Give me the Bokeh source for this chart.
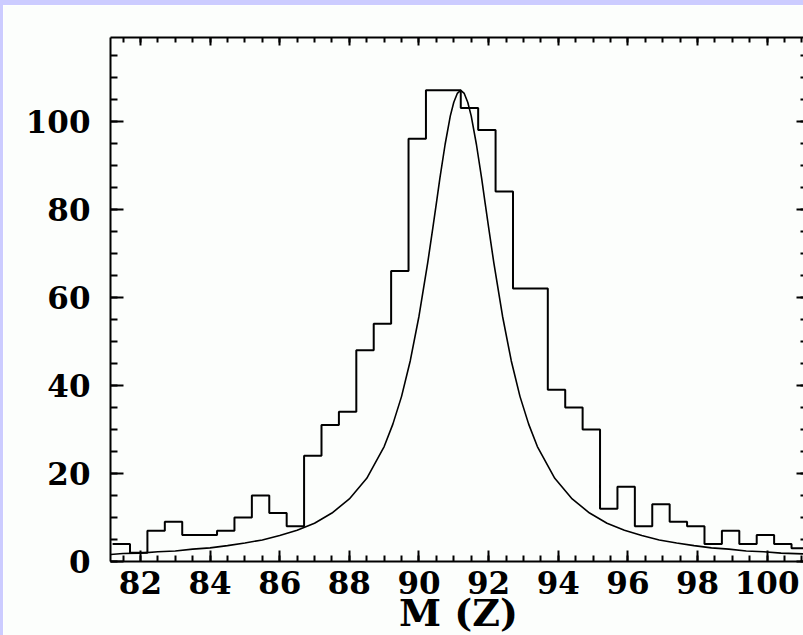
from bokeh.plotting import figure
from bokeh.models import Range1d, LinearAxis, SingleIntervalTicker, CustomJSTickFormatter
from bokeh.embed import file_html
from bokeh.resources import INLINE

# ---- data ----
bin_edges = [81.2, 81.7, 82.2, 82.7, 83.2, 83.7, 84.2, 84.7, 85.2, 85.7,
             86.2, 86.7, 87.2, 87.7, 88.2, 88.7, 89.2, 89.7, 90.2, 90.7,
             91.2, 91.7, 92.2, 92.7, 93.2, 93.7, 94.2, 94.7, 95.2, 95.7,
             96.2, 96.7, 97.2, 97.7, 98.2, 98.7, 99.2, 99.7, 100.2, 100.7, 101.2]
counts = [4, 2, 7, 9, 6, 6, 7, 10, 15, 11,
          8, 24, 31, 34, 48, 54, 66, 96, 107, 107,
          103, 98, 84, 62, 62, 39, 35, 30, 12, 17,
          8, 13, 9, 8, 4, 7, 4, 6, 4, 3]

curve_m = [81.14, 81.5, 82.0, 82.5, 83.0, 83.5, 84.0, 84.5, 85.0, 85.5,
           86.0, 86.5, 87.0, 87.5, 88.0, 88.5, 89.0, 89.25, 89.5, 89.75,
           90.0, 90.25, 90.4, 90.5, 90.6, 90.75, 90.9, 91.0, 91.1, 91.2,
           91.3, 91.4, 91.5, 91.65, 91.8, 91.9, 92.0, 92.15, 92.4, 92.65,
           92.9, 93.15, 93.4, 93.9, 94.4, 94.9, 95.4, 95.9, 96.4, 96.9,
           97.4, 97.9, 98.4, 98.9, 99.4, 99.9, 100.4, 101.13]
curve_n = [1.6, 1.8, 1.9, 2.2, 2.4, 2.8, 3.1, 3.6, 4.2, 4.9,
           5.9, 7.1, 8.7, 11.0, 14.2, 18.9, 26.1, 31.2, 37.5, 45.6,
           55.7, 67.8, 75.9, 81.4, 87.0, 94.7, 101.2, 104.3, 106.3, 107.0,
           106.3, 104.3, 101.2, 94.7, 87.0, 81.4, 75.9, 67.8, 55.7, 45.6,
           37.5, 31.2, 26.1, 18.9, 14.2, 11.0, 8.7, 7.1, 5.9, 4.9,
           4.2, 3.6, 3.1, 2.8, 2.4, 2.2, 1.9, 1.7]

x_label = "M (Z)"
x_start, x_end = 81.14, 101.13
y_start, y_end = 0, 119

FONT = "DejaVu Serif"
BG = "#fcfefc"
FRAME_BAND = "#ccccff"

p = figure(width=800, height=630, output_backend="svg", toolbar_location=None,
           x_range=Range1d(x_start, x_end), y_range=Range1d(y_start, y_end),
           min_border_left=107, min_border_right=0, min_border_top=32, min_border_bottom=79,
           background_fill_color=BG, border_fill_color=BG, outline_line_color=None)
p.styles = {"border-top": "5px solid " + FRAME_BAND, "border-left": "3px solid " + FRAME_BAND,
            "box-sizing": "content-box"}
p.grid.visible = False

def style_axis(ax, major_in, minor_in, labels=True):
    ax.axis_line_color = "black"
    ax.axis_line_width = 2
    ax.major_tick_out = 0
    ax.minor_tick_out = 0
    ax.major_tick_in = major_in
    ax.minor_tick_in = minor_in
    ax.major_tick_line_width = 2
    ax.minor_tick_line_width = 2
    ax.major_tick_line_color = "black"
    ax.minor_tick_line_color = "black"
    if labels:
        ax.major_label_text_font = FONT
        ax.major_label_text_font_style = "bold"
        ax.major_label_text_font_size = "31px"
        ax.major_label_text_color = "black"
    else:
        ax.formatter = CustomJSTickFormatter(code="return ''")
        ax.major_label_standoff = 0

xb = p.xaxis[0]
xb.ticker = SingleIntervalTicker(interval=2, num_minor_ticks=4)
style_axis(xb, 11, 6)
xb.major_label_standoff = 9
xb.axis_label = x_label
xb.axis_label_text_font = FONT
xb.axis_label_text_font_style = "bold"
xb.axis_label_text_font_size = "38px"
xb.axis_label_text_color = "black"
xb.axis_label_standoff = -7

yl = p.yaxis[0]
yl.ticker = SingleIntervalTicker(interval=20, num_minor_ticks=4)
style_axis(yl, 13, 7)
yl.major_label_standoff = 20

xt = LinearAxis(ticker=SingleIntervalTicker(interval=2, num_minor_ticks=4))
style_axis(xt, 8, 5, labels=False)
p.add_layout(xt, "above")

yr = LinearAxis(ticker=SingleIntervalTicker(interval=20, num_minor_ticks=4))
style_axis(yr, 10, 6, labels=False)
yr.axis_line_color = None
p.add_layout(yr, "right")

# histogram
p.step(x=bin_edges, y=counts + [counts[-1]], mode="after", line_color="black", line_width=2)
# fitted curve
p.line(x=curve_m, y=curve_n, line_color="black", line_width=1.6)

open("out.html", "w").write(file_html(p, INLINE))
